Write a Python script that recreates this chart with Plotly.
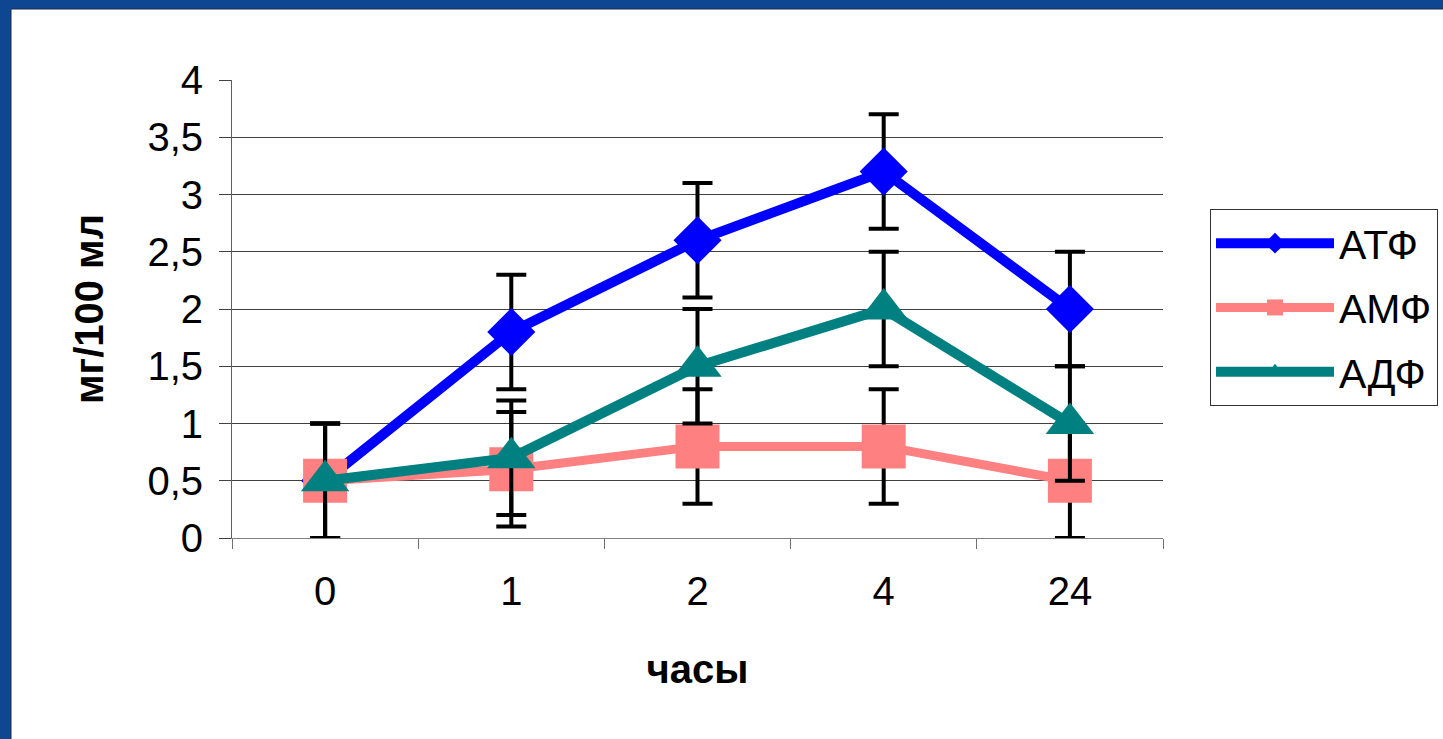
import plotly.graph_objects as go

# ---- data ----
hours = ["0", "1", "2", "4", "24"]
atf = [0.5, 1.8, 2.6, 3.2, 2.0]
amf = [0.5, 0.6, 0.8, 0.8, 0.5]
adf = [0.5, 0.7, 1.5, 2.0, 1.0]
atf_err = [0.5, 0.5, 0.5, 0.5, 0.5]
amf_err = [0.5, 0.5, 0.5, 0.5, 0.5]
adf_err = [0.5, 0.5, 0.5, 0.5, 0.5]
series_names = ["АТФ", "АМФ", "АДФ"]
y_tick_vals = [0, 0.5, 1, 1.5, 2, 2.5, 3, 3.5, 4]
y_tick_text = ["0", "0,5", "1", "1,5", "2", "2,5", "3", "3,5", "4"]

W, H = 1443, 739
ML, MR, MT, MB = 232, 280, 80, 201
pw = W - ML - MR
ph = H - MT - MB

FONT = "Liberation Sans, Arial, sans-serif"

def px2x(px):
    return (px - ML) / pw

def py2y(py):
    return (H - MB - py) / ph

fig = go.Figure()

specs = [
    (series_names[0], atf, atf_err, "#0000FF", "diamond", 37, 10),
    (series_names[1], amf, amf_err, "#FF8080", "square", 44, 9),
    (series_names[2], adf, adf_err, "#008080", "triangle-up", 42, 10),
]
for i, (name, vals, err, col, sym, sz, lw) in enumerate(specs):
    fig.add_trace(go.Scatter(
        x=hours, y=vals, name=name, mode="lines+markers",
        legendgroup="g%d" % i,
        line=dict(color=col, width=lw),
        marker=dict(color=col, symbol=sym, size=sz, line=dict(width=0)),
        error_y=dict(type="data", array=err, visible=True, color="black",
                     thickness=4, width=15),
        cliponaxis=False,
    ))

# white panel on blue background
fig.add_shape(type="rect", xref="paper", yref="paper", layer="below",
              x0=px2x(11), x1=px2x(W + 5), y0=py2y(H + 5), y1=py2y(9),
              fillcolor="white", line=dict(color="#1b2b44", width=1))

fig.update_layout(
    width=W, height=H,
    margin=dict(l=ML, r=MR, t=MT, b=MB, autoexpand=False),
    paper_bgcolor="#0f4691",
    plot_bgcolor="rgba(0,0,0,0)",
    font=dict(family=FONT, size=40, color="black"),
    showlegend=True,
    legend=dict(
        x=px2x(1210), y=py2y(209), xanchor="left", yanchor="top",
        bgcolor="white", bordercolor="#333333", borderwidth=1,
        font=dict(family=FONT, size=41, color="black"),
        itemwidth=118, itemsizing="trace",
        tracegroupgap=8,
    ),
    xaxis=dict(
        type="category", range=[-0.5, 4.5], tickson="boundaries",
        ticks="outside", ticklen=10,
        tickcolor="#707070", showline=True, linecolor="#808080", linewidth=1,
        showgrid=False, zeroline=False,
        tickfont=dict(family=FONT, size=40),
        ticklabelstandoff=18,
        title=dict(text="<b>часы</b>", font=dict(family=FONT, size=40), standoff=42),
    ),
    yaxis=dict(
        range=[0, 4], tickvals=y_tick_vals, ticktext=y_tick_text,
        ticks="outside", ticklen=12, tickcolor="#404040",
        showline=True, linecolor="#606060", linewidth=1,
        showgrid=True, gridcolor="#404040", gridwidth=1, zeroline=False,
        tickfont=dict(family=FONT, size=40),
        ticklabelstandoff=8,
        title=dict(text="<b>мг/100 мл</b>", font=dict(family=FONT, size=40), standoff=31),
    ),
)

fig.write_html(
    "out.html",
    config={"displayModeBar": False},
    post_script="document.body.style.margin='0';document.body.style.overflow='hidden';",
)
